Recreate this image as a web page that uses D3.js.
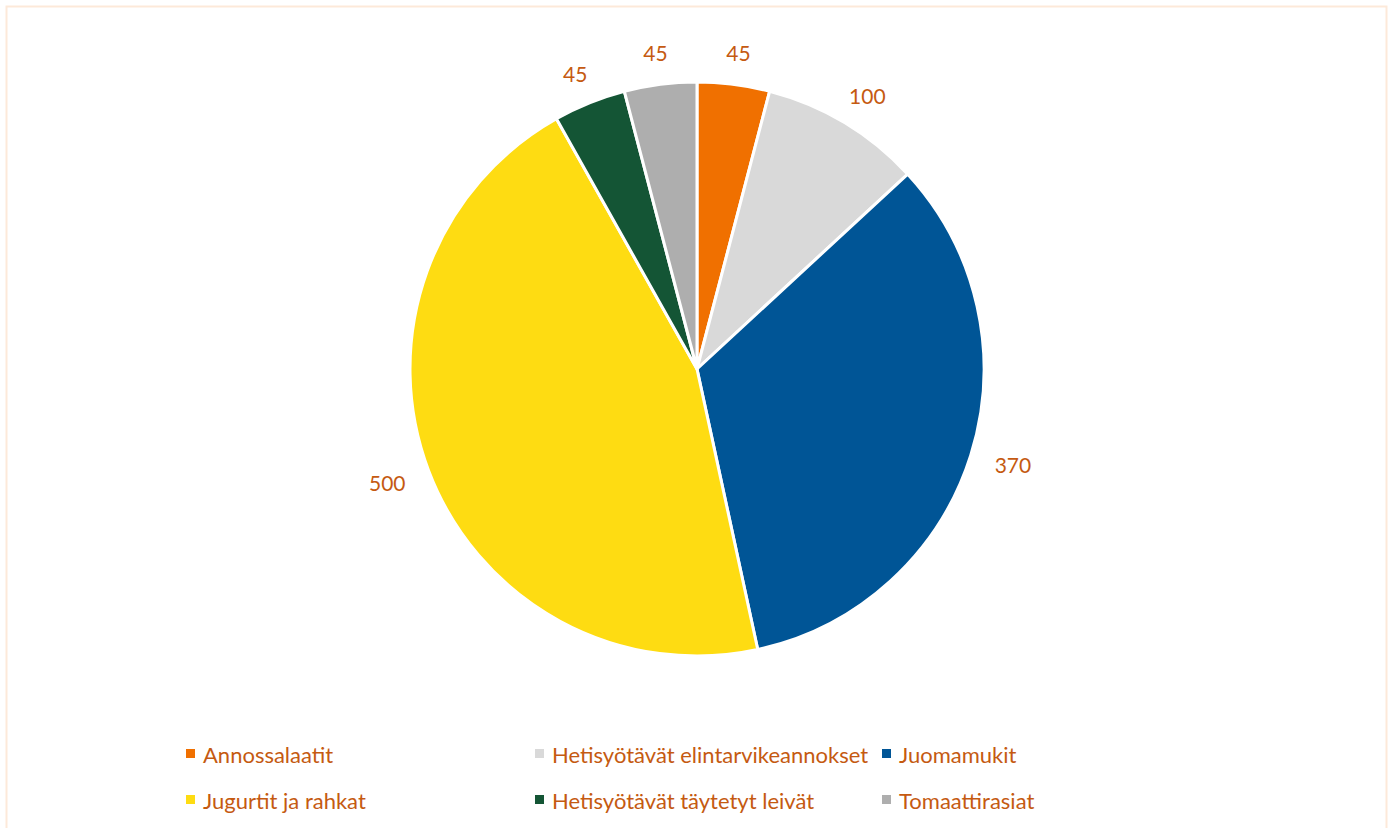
<!DOCTYPE html>
<html>
<head>
<meta charset="utf-8">
<script src="https://cdn.jsdelivr.net/npm/d3@7"></script>
<style>
  body { margin: 0; background: #fff; }
  svg { display: block; font-family: Lato, "Open Sans", sans-serif; }
</style>
</head>
<body>
<script>
const categories = ["Annossalaatit", "Hetisyötävät elintarvikeannokset", "Juomamukit",
  "Jugurtit ja rahkat", "Hetisyötävät täytetyt leivät", "Tomaattirasiat"];
const values = [45, 100, 370, 500, 45, 45];
const colors = ["#F07000", "#D9D9D9", "#005596", "#FEDC12", "#145535", "#AEAEAE"];

const width = 1392, height = 828;
const cx = 697, cy = 369, radius = 287;
const labelColor = "#C55A11";

const svg = d3.select("body").append("svg")
  .attr("width", width)
  .attr("height", height);

// chart area frame
svg.append("rect")
  .attr("x", 6.5).attr("y", 6.5)
  .attr("width", 1380).attr("height", 830)
  .attr("fill", "none")
  .attr("stroke", "#FDE9D9")
  .attr("stroke-width", 2);

const data = categories.map((c, i) => ({ name: c, value: values[i], color: colors[i] }));

const pie = d3.pie().sort(null).value(d => d.value);
const arc = d3.arc().innerRadius(0).outerRadius(radius);
const arcs = pie(data);

const g = svg.append("g").attr("transform", `translate(${cx},${cy})`);

g.selectAll("path")
  .data(arcs)
  .join("path")
  .attr("d", arc)
  .attr("fill", d => d.data.color)
  .attr("stroke", "#fff")
  .attr("stroke-width", 3)
  .attr("stroke-linejoin", "round");

// outside-end labels
const gap = 26;
g.selectAll("text.lbl")
  .data(arcs)
  .join("text")
  .attr("class", "lbl")
  .text(d => d.data.value)
  .attr("font-size", 21)
  .attr("fill", labelColor)
  .attr("text-anchor", "middle")
  .attr("dominant-baseline", "central")
  .each(function (d) {
    const a = (d.startAngle + d.endAngle) / 2;
    const w = this.getComputedTextLength();
    const s = Math.sin(a), c = Math.cos(a);
    const x = (radius + gap) * s + (w / 2) * s;
    const y = -(radius + gap) * c - 6 * c;
    d3.select(this).attr("x", x).attr("y", y);
  });

// legend
const legendCols = [190, 539, 886];
const legendRows = [754, 800];
const legend = svg.append("g");
data.forEach((d, i) => {
  const x = legendCols[i % 3], y = legendRows[Math.floor(i / 3)];
  legend.append("rect")
    .attr("x", x - 4).attr("y", y - 5)
    .attr("width", 9).attr("height", 9)
    .attr("fill", d.color);
  legend.append("text")
    .attr("x", x + 13).attr("y", y)
    .attr("dominant-baseline", "central")
    .attr("font-size", 22)
    .attr("fill", labelColor)
    .text(d.name);
});
</script>
</body>
</html>
